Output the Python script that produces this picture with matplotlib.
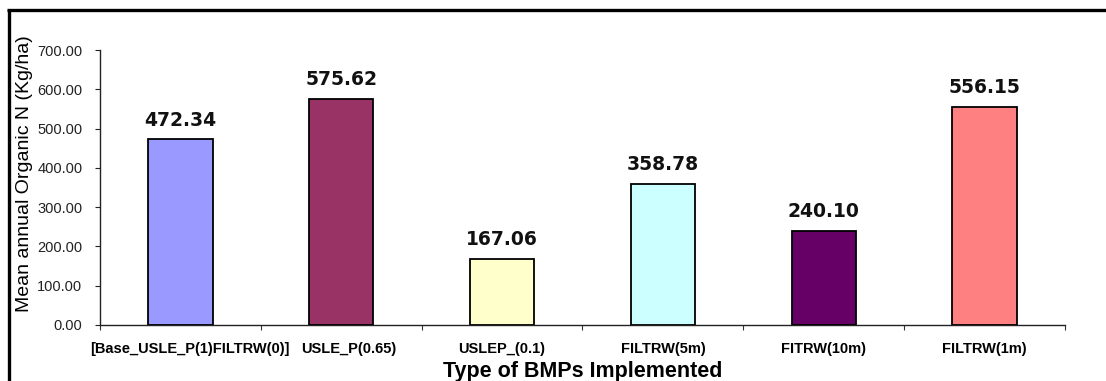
import matplotlib
matplotlib.use("Agg")
import matplotlib.pyplot as plt
from matplotlib.lines import Line2D
from matplotlib.transforms import ScaledTranslation

# Data
categories = ["[Base_USLE_P(1)FILTRW(0)]", "USLE_P(0.65)", "USLEP_(0.1)",
              "FILTRW(5m)", "FITRW(10m)", "FILTRW(1m)"]
organic_n = [472.34, 575.62, 167.06, 358.78, 240.10, 556.15]
bar_colors = ["#9999FF", "#993366", "#FFFFCC", "#CCFFFF", "#660066", "#FF8080"]
y_ticks = [0, 100, 200, 300, 400, 500, 600, 700]

plt.rcParams["font.family"] = ["Liberation Sans", "DejaVu Sans"]

W, H = 1106, 381
fig = plt.figure(figsize=(W / 100, H / 100), dpi=100)
fig.patch.set_facecolor("white")

ax_l, ax_r, ax_t, ax_b = 100, 1065, 50, 325
ax = fig.add_axes([ax_l / W, 1 - ax_b / H, (ax_r - ax_l) / W, (ax_b - ax_t) / H])

x = list(range(len(categories)))
ax.bar(x, organic_n, width=0.40, color=bar_colors, edgecolor="black",
       linewidth=1.3, zorder=3)

for xi, v in zip(x, organic_n):
    ax.annotate(f"{v:.2f}", (xi, v), xytext=(0, 10), textcoords="offset points",
                ha="center", va="baseline", fontsize=13.5, fontweight="bold",
                family="DejaVu Sans", color="#111111")

ax.set_xlim(-0.5, len(categories) - 0.5)
ax.set_ylim(0, 700)

ax.set_yticks(y_ticks)
ax.set_yticklabels([f"{t:.2f}" for t in y_ticks], fontsize=10.5)
ax.tick_params(axis="y", direction="out", length=3.6, width=0.8, pad=9,
               colors="#222222")

# category labels at centres, tick marks on the boundaries
ax.set_xticks(x)
ax.set_xticklabels(categories, fontsize=10.5, fontweight="bold")
ax.set_xticks([i - 0.5 for i in range(len(categories) + 1)], minor=True)
ax.tick_params(axis="x", which="major", length=0, pad=12)
ax.tick_params(axis="x", which="minor", direction="out", length=3.6, width=0.8,
               colors="#333333")
shifts = [9, 7, 0, 0, 0, 0]
for lbl, dx in zip(ax.get_xticklabels(), shifts):
    lbl.set_transform(lbl.get_transform() + ScaledTranslation(dx / 100, 0, fig.dpi_scale_trans))

for side in ("top", "right"):
    ax.spines[side].set_visible(False)
for side in ("left", "bottom"):
    ax.spines[side].set_linewidth(1.0)
    ax.spines[side].set_color("#222222")

ax.set_xlabel("Type of BMPs Implemented", fontsize=15.5, fontweight="bold",
              labelpad=4)
ax.set_ylabel("Mean annual Organic N (Kg/ha)", fontsize=14)
ax.yaxis.set_label_coords(-(ax_l - 33) / (ax_r - ax_l), (ax_b - 174) / (ax_b - ax_t))

# outer chart frame: left edge and top edge
fx = 8.5 / W
fy = 1 - 10 / H
fig.add_artist(Line2D([fx, fx], [0.0, fy + 1.2 / H], transform=fig.transFigure,
                      color="black", linewidth=2.4, solid_capstyle="butt"))
fig.add_artist(Line2D([fx - 1.2 / W, 1.0], [fy, fy], transform=fig.transFigure,
                      color="black", linewidth=2.4, solid_capstyle="butt"))

fig.savefig("out.png", dpi=100, facecolor="white")
